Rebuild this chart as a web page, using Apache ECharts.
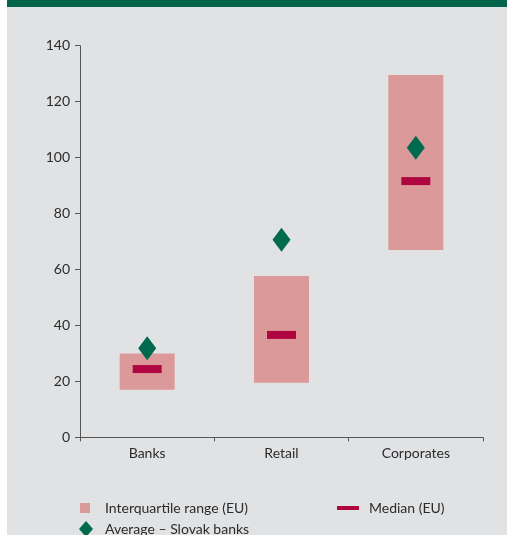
<!DOCTYPE html>
<html>
<head>
<meta charset="utf-8">
<script src="https://cdn.jsdelivr.net/npm/echarts@6/dist/echarts.min.js"></script>
<style>
html,body{margin:0;padding:0;background:#ffffff;}
#chart{width:507px;height:535px;}
</style>
</head>
<body>
<div id="chart"></div>
<script>
var categories = ['Banks', 'Retail', 'Corporates'];
var q1Values = [17, 19.5, 67];
var q3Values = [30, 57.7, 129.5];
var medianValues = [24.4, 36.6, 91.6];
var averageValues = [31.8, 70.6, 103.5];
var yTicks = [0, 20, 40, 60, 80, 100, 120, 140];

var rangeSpan = q3Values.map(function (v, i) { return v - q1Values[i]; });
var FONT = 'Lato';
var TXT = '#2b2b2b';

var chart = echarts.init(document.getElementById('chart'), null, {renderer: 'canvas'});
chart.setOption({
  animation: false,
  textStyle: {fontFamily: FONT},
  graphic: [
    {type: 'rect', z: -10, shape: {x: 7, y: 0, width: 500, height: 535}, style: {fill: '#e1e2e4'}},
    {type: 'rect', z: -9, shape: {x: 7, y: 0, width: 500, height: 7}, style: {fill: '#00644a'}}
  ],
  grid: {left: 80, right: 24, top: 45.7, bottom: 97.7},
  xAxis: {
    type: 'category',
    data: categories,
    boundaryGap: true,
    axisLine: {lineStyle: {color: '#555555', width: 1}},
    axisTick: {show: true, length: 4, lineStyle: {color: '#555555'}},
    axisLabel: {color: TXT, fontSize: 14, fontFamily: FONT, margin: 9}
  },
  yAxis: {
    type: 'value',
    min: yTicks[0],
    max: yTicks[yTicks.length - 1],
    interval: yTicks[1] - yTicks[0],
    axisLine: {show: true, lineStyle: {color: '#555555', width: 1}},
    axisTick: {show: true, length: 5, lineStyle: {color: '#555555'}},
    splitLine: {show: false},
    axisLabel: {color: TXT, fontSize: 14, fontFamily: FONT, margin: 10}
  },
  legend: [
    {
      data: [{name: 'Interquartile range (EU)', icon: 'rect'}],
      left: 80, top: 501, padding: 0, itemWidth: 10, itemHeight: 10, itemGap: 0,
      textStyle: {color: TXT, fontSize: 14, fontFamily: FONT, padding: [0, 0, 0, 10]},
      selectedMode: false
    },
    {
      data: [{name: 'Average – Slovak banks', icon: 'diamond'}],
      left: 79, top: 521, padding: 0, itemWidth: 14, itemHeight: 16, itemGap: 0,
      textStyle: {color: TXT, fontSize: 14, fontFamily: FONT, padding: [0, 0, 0, 7]},
      selectedMode: false
    },
    {
      data: [{name: 'Median (EU)', icon: 'rect'}],
      left: 337, top: 501, padding: 0, itemWidth: 22, itemHeight: 4, itemGap: 0,
      textStyle: {color: TXT, fontSize: 14, fontFamily: FONT, padding: [0, 0, 0, 5]},
      selectedMode: false
    }
  ],
  series: [
    {
      name: 'base', type: 'bar', stack: 'iqr', data: q1Values, barWidth: 55,
      itemStyle: {color: 'rgba(0,0,0,0)'}, silent: true
    },
    {
      name: 'Interquartile range (EU)', type: 'bar', stack: 'iqr', data: rangeSpan, barWidth: 55,
      itemStyle: {color: '#dc999a', opacity: 1}
    },
    {
      name: 'Median (EU)', type: 'scatter', data: medianValues, symbol: 'rect',
      symbolSize: [29, 8], itemStyle: {color: '#b0063f', opacity: 1}, z: 3
    },
    {
      name: 'Average – Slovak banks', type: 'scatter', data: averageValues, symbol: 'diamond',
      symbolSize: [18, 24], itemStyle: {color: '#006a4e', opacity: 1}, z: 4
    }
  ]
});
</script>
</body>
</html>
